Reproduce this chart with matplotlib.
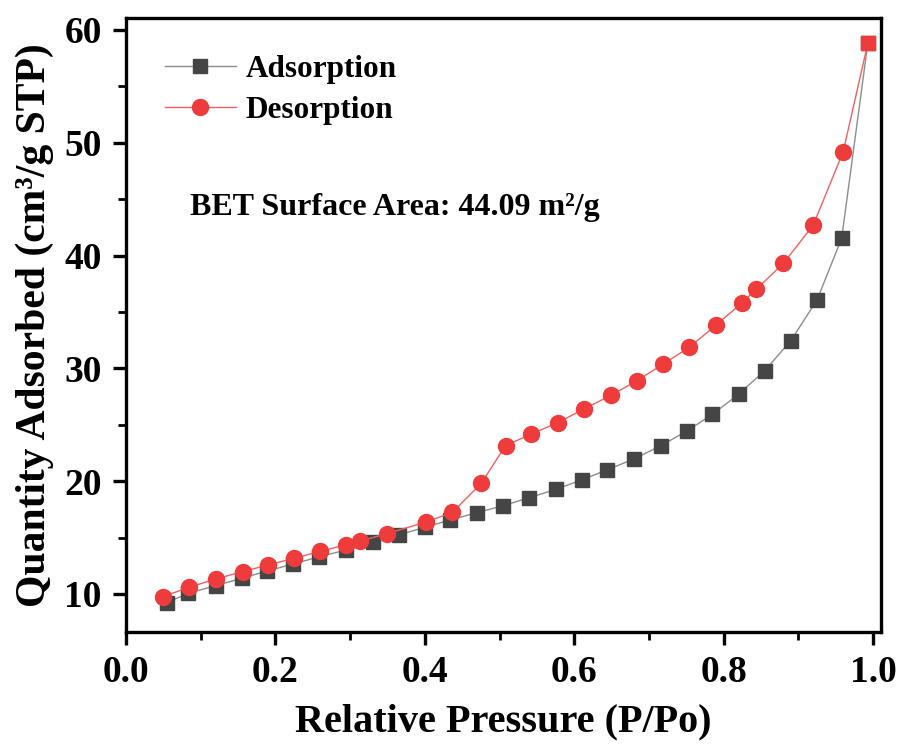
import matplotlib
matplotlib.use("Agg")
import matplotlib.pyplot as plt
from matplotlib.ticker import MultipleLocator

plt.rcParams['font.family'] = ['Liberation Serif', 'DejaVu Serif']
plt.rcParams['font.weight'] = 'bold'

ads_x = [0.0546, 0.0835, 0.120, 0.155, 0.189, 0.224, 0.259, 0.295, 0.330, 0.365,
         0.400, 0.434, 0.470, 0.505, 0.540, 0.5755, 0.610, 0.644, 0.680, 0.716,
         0.751, 0.785, 0.820, 0.855, 0.890, 0.925, 0.958, 0.993]
ads_y = [9.23, 10.06, 10.74, 11.39, 12.04, 12.66, 13.31, 13.90, 14.58, 15.23,
         15.91, 16.56, 17.21, 17.83, 18.54, 19.28, 20.11, 21.00, 21.97, 23.15,
         24.45, 25.93, 27.70, 29.80, 32.46, 36.06, 41.53, 58.82]

des_x = [0.993, 0.960, 0.920, 0.880, 0.8436, 0.824, 0.7895, 0.754, 0.7185, 0.684,
         0.649, 0.613, 0.578, 0.5425, 0.508, 0.4755, 0.437, 0.401, 0.349, 0.313,
         0.295, 0.260, 0.225, 0.190, 0.156, 0.120, 0.0845, 0.049]
des_y = [58.82, 49.21, 42.71, 39.31, 37.01, 35.77, 33.82, 31.87, 30.36, 28.91,
         27.61, 26.40, 25.19, 24.18, 23.15, 19.81, 17.24, 16.36, 15.35, 14.67,
         14.37, 13.78, 13.16, 12.57, 11.98, 11.33, 10.59, 9.76]

x_ticks = [0.0, 0.2, 0.4, 0.6, 0.8, 1.0]
y_ticks = [10, 20, 30, 40, 50, 60]

fig = plt.figure(figsize=(9.04, 7.45), dpi=100)
ax = fig.add_axes([0.1394, 0.1517, 0.8352, 0.8241])

grey_line = '#8c8c8c'
dark = '#454545'
red = '#ee3b3b'
red_line = '#f06060'

ax.plot(ads_x, ads_y, color=grey_line, lw=1.0, marker='s', ms=10,
        mfc=dark, mec=dark, label='Adsorption', zorder=3)
ax.plot(des_x, des_y, color=red_line, lw=1.0, marker='o', ms=11.5,
        mfc=red, mec=red, label='Desorption', zorder=4, markevery=list(range(1, len(des_x))))
ax.plot(des_x[:1], des_y[:1], ls='none', marker='s', ms=10, mfc=red, mec=red, zorder=5)

ax.set_xlim(0, 1.0107)
ax.set_ylim(6.63, 61.06)
ax.set_xticks(x_ticks)
ax.set_xticklabels([f"{t:.1f}" for t in x_ticks])
ax.set_yticks(y_ticks)
ax.xaxis.set_minor_locator(MultipleLocator(0.1))
ax.yaxis.set_minor_locator(MultipleLocator(5))

for s in ax.spines.values():
    s.set_linewidth(2.4)
ax.tick_params(which='major', direction='out', length=9.5, width=2.4, labelsize=27)
ax.tick_params(axis='y', which='major', pad=8)
ax.tick_params(axis='x', which='major', pad=7)
ax.tick_params(which='minor', direction='out', length=5.5, width=2.0)
for lab in ax.get_xticklabels() + ax.get_yticklabels():
    lab.set_fontweight('bold')

ax.set_xlabel('Relative Pressure (P/Po)', fontsize=29, fontweight='bold', labelpad=10)
ax.set_ylabel('Quantity Adsorbed (cm³/g STP)', fontsize=30, fontweight='bold', labelpad=7)

leg = ax.legend(loc='upper left', bbox_to_anchor=(0.052, 0.94), frameon=False,
                fontsize=22.5, handlelength=2.25, handletextpad=0.32, labelspacing=0.38,
                borderpad=0, borderaxespad=0, markerscale=1.0)

ax.text(0.0848, 0.679, 'BET Surface Area: 44.09 m²/g', transform=ax.transAxes,
        fontsize=23, fontweight='bold', va='baseline', ha='left')

fig.savefig('out.png', dpi=100)
